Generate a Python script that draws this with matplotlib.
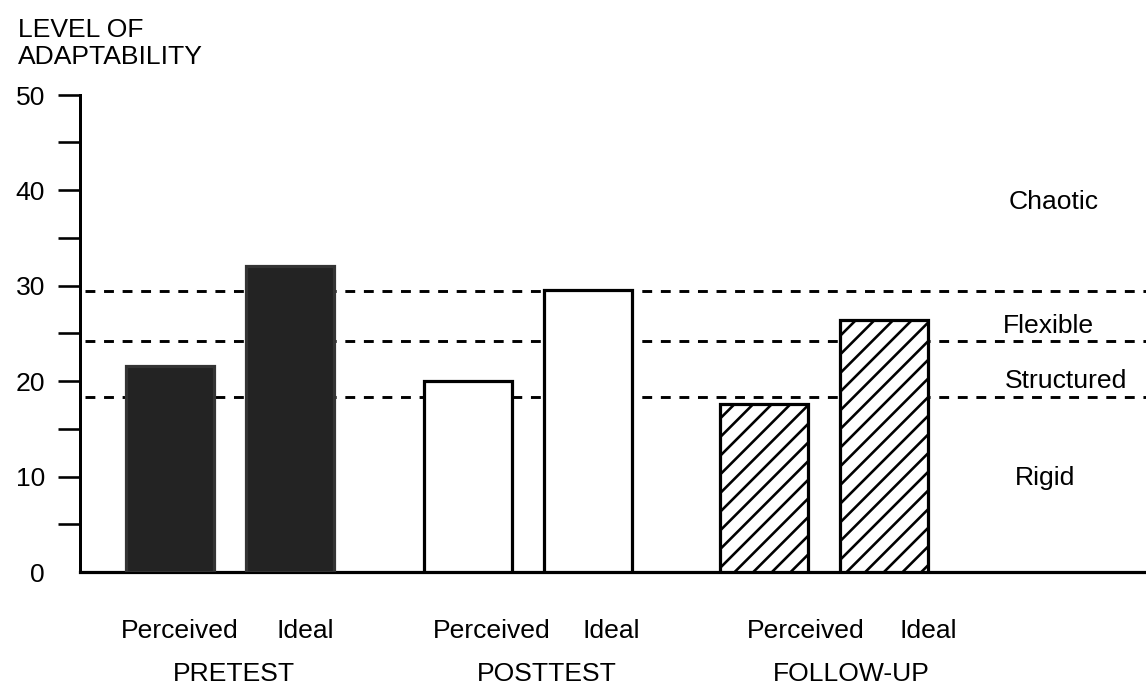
import matplotlib
matplotlib.use("Agg")
import matplotlib.pyplot as plt

# ---------------- data ----------------
phases = ["PRETEST", "POSTTEST", "FOLLOW-UP"]
bar_labels = ["Perceived", "Ideal"]
perceived = [21.6, 20.05, 17.6]
ideal = [32.1, 29.5, 26.4]
zone_bounds = [29.4, 24.2, 18.3]
zone_names = ["Chaotic", "Flexible", "Structured", "Rigid"]
y_ticks = [0, 10, 20, 30, 40, 50]
y_label_lines = ["LEVEL OF", "ADAPTABILITY"]

# ---------------- layout ----------------
W, H = 1146, 689
DPI = 168
def pt(px):
    return px * 72.0 / DPI

plt.rcParams["font.family"] = ["Liberation Sans", "DejaVu Sans"]
plt.rcParams["hatch.linewidth"] = pt(2.6)
FS = pt(26.5)

fig = plt.figure(figsize=((W + 0.3) / DPI, (H + 0.3) / DPI), dpi=DPI)
ax_left, ax_right, ax_bottom, ax_top = 80, 1146, 572, 95
ax = fig.add_axes([ax_left / W, 1 - ax_bottom / H,
                   (ax_right - ax_left) / W, (ax_bottom - ax_top) / H])
ax.set_xlim(0, ax_right - ax_left)
ax.set_ylim(0, 50)

group_centers = [150, 448, 744]
offset = 60
width = 88
styles = [
    dict(facecolor="#232323", edgecolor="#343434", hatch=None),
    dict(facecolor="white", edgecolor="black", hatch=None),
    dict(facecolor="white", edgecolor="black", hatch="///"),
]
for i, gc in enumerate(group_centers):
    st = styles[i]
    for j, val in enumerate([perceived[i], ideal[i]]):
        x = gc - offset if j == 0 else gc + offset
        ax.bar(x, val, width=width, facecolor=st["facecolor"],
               edgecolor=st["edgecolor"], hatch=st["hatch"],
               linewidth=pt(3.2), zorder=3)

# zone boundaries (dashed)
for yb in zone_bounds:
    ax.hlines(yb, 5, ax_right - ax_left, colors="black",
              linewidth=pt(2.9), linestyles=(0, (3.4, 3.0)), zorder=1)

# spines / ticks
for s in ["top", "right"]:
    ax.spines[s].set_visible(False)
ax.spines["left"].set_linewidth(pt(3))
ax.spines["bottom"].set_linewidth(pt(3.2))
ax.spines["left"].set_bounds(0, 50)
ax.set_xticks([])
ax.set_yticks(y_ticks)
ax.set_yticklabels([str(t) for t in y_ticks], fontsize=FS)
ax.set_yticks([5, 15, 25, 35, 45], minor=True)
ax.tick_params(axis="y", which="both", direction="out", length=pt(22),
               width=pt(2.6), pad=pt(13))
ax.yaxis.get_major_ticks()[0].tick1line.set_visible(False)

def ftext(x, y, s, ha="left"):
    fig.text(x / W, 1 - y / H, s, fontsize=FS, ha=ha, va="baseline")

# y-axis title
ftext(18, 37, y_label_lines[0])
ftext(18, 64, y_label_lines[1])

# zone names
zone_pos = [(1008, 209), (1003, 333), (1005, 388), (1015, 485)]
for name, (x, y) in zip(zone_names, zone_pos):
    ftext(x, y, name)

# category labels
perc_x = [180, 492, 806]
ideal_x = [305, 611, 928]
phase_x = [234, 547, 851]
for i in range(3):
    ftext(perc_x[i], 638, bar_labels[0], ha="center")
    ftext(ideal_x[i], 638, bar_labels[1], ha="center")
    ftext(phase_x[i], 681, phases[i], ha="center")

fig.savefig("out.png", dpi=DPI, facecolor="white")
